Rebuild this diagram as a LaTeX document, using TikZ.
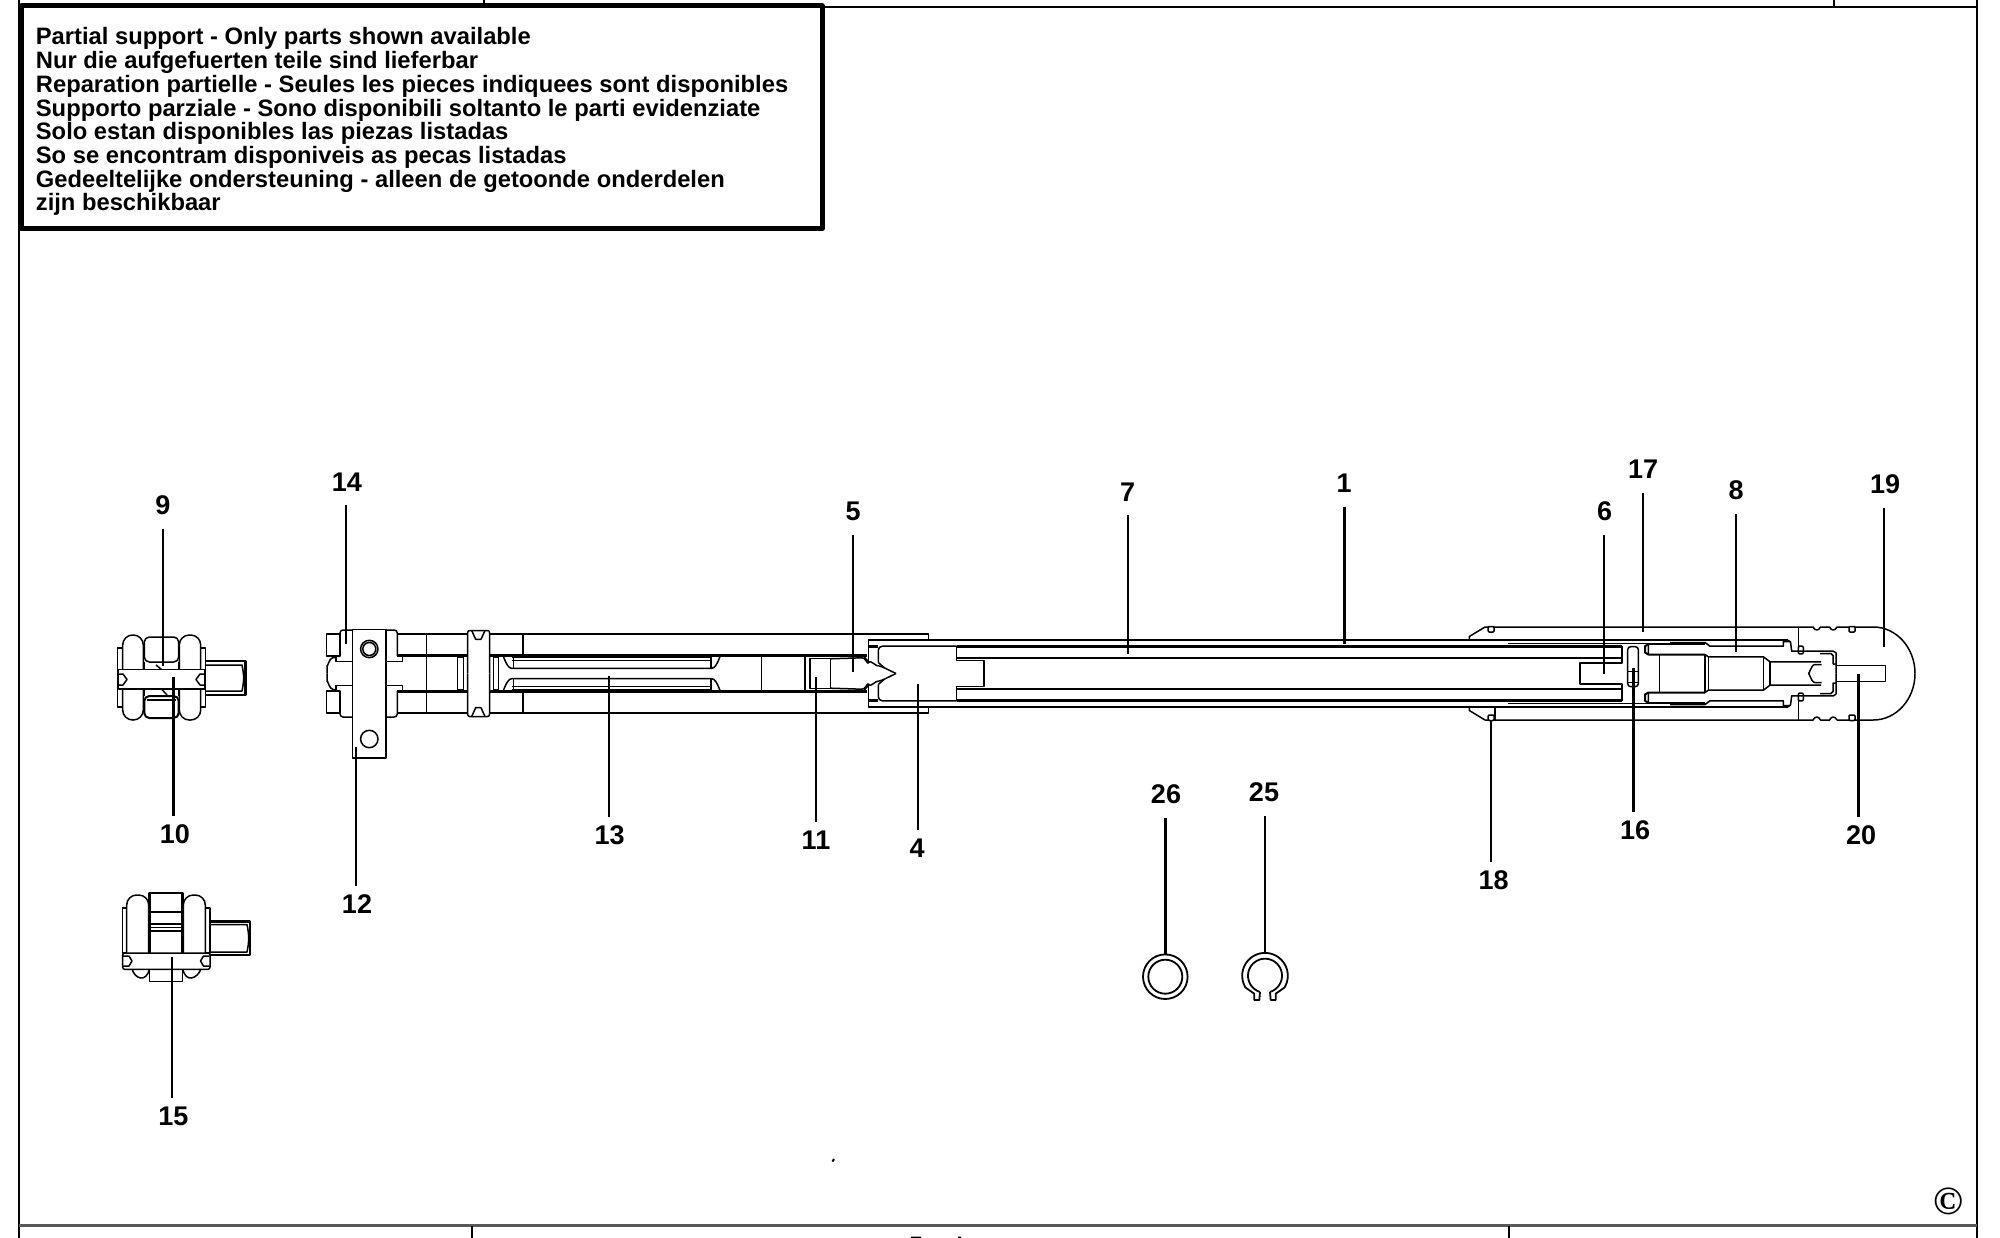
\documentclass[tikz,border=0pt]{standalone}
\usepackage{fontspec}
\setmainfont{Liberation Sans}
\newfontfamily\markfont{Liberation Serif}
\tikzset{
  part/.style={line width=1.5pt},
  medium/.style={line width=2pt},
  heavy/.style={line width=2.8pt},
  leader/.style={line width=2.4pt},
  partno/.style={font=\fontsize{27}{27}\selectfont\bfseries,inner sep=0pt},
  partup/.style={partno,outer sep=14pt},
  partdown/.style={partno,outer sep=9pt,yshift=-1.3pt},
  noticebox/.style={draw,line width=5pt,fill=white,minimum width=801pt,minimum height=223pt},
  noticetext/.style={inner sep=0pt,align=left,font=\fontsize{23.75}{23.7}\selectfont\bfseries},
}
\begin{document}
\begin{tikzpicture}[x=1pt,y=-1pt,line join=round]
\useasboundingbox (0,0) rectangle (2000,1238);
% sheet frame
\draw[line width=2pt] (19,0) -- (19,1238);
\draw[line width=2pt] (1977,0) -- (1977,1238);
\draw[line width=2pt] (19,7) -- (1977,7);
\draw[line width=3pt,black!65] (19,1225.5) -- (1977,1225.5);
\draw[part] (484,0) -- (484,6) (1834,0) -- (1834,6) (472,1226) -- (472,1238) (1509,1226) -- (1509,1238);
\draw[line width=2pt] (911,1237.5) -- (921,1237.5) (958,1237.5) -- (961,1237.5) (832.5,1161.5) -- (834,1159);
\node[noticebox,anchor=north west] (partnotice) at (18.5,3.5) {};
\node[noticetext,anchor=north west] (noticelines) at (35.7,27.5) {Partial support - Only parts shown available\\
Nur die aufgefuerten teile sind lieferbar\\
Reparation partielle - Seules les pieces indiquees sont disponibles\\
Supporto parziale - Sono disponibili soltanto le parti evidenziate\\
Solo estan disponibles las piezas listadas\\
So se encontram disponiveis as pecas listadas\\
Gedeeltelijke ondersteuning - alleen de getoonde onderdelen\\
zijn beschikbaar};
\node[font=\fontsize{40}{40}\selectfont\markfont\bfseries,inner sep=0pt] (copymark) at (1948,1201.7) {©};
% end view with bar
\draw[part] (117.3,648) rectangle (122.7,707) (200.7,648) rectangle (205.3,707);
\draw[part,rounded corners=10pt] (122.7,635) rectangle (143.3,720) (179.3,635) rectangle (200.7,720);
\draw[part,rounded corners=5pt] (144.3,637) rectangle (178.7,662);
\draw[medium,rounded corners=5pt] (144.3,696) rectangle (178.7,718);
\draw[part] (144.3,662) -- (144.3,696) (178.7,662) -- (178.7,696) (147,700) -- (176,700);
\draw[part] (156,665) -- (161.5,669.5) (161.5,689) -- (167,695);
\draw[part,fill=white] (118.3,669.3) rectangle (205,689);
\draw[part] (119,674) -- (123,674) -- (127,679.5) -- (123,685) -- (119,685);
\draw[part] (204,674) -- (200,674) -- (196,679.5) -- (200,685) -- (204,685);
\draw[heavy] (205.3,661) -- (245.3,661) -- (245.3,695) -- (205.3,695);
\draw[part] (205.3,665) -- (242,665) to[bend left=12] (242,691) -- (205.3,691);
% end view with block
\draw[part] (122.7,908) rectangle (126.7,953) (205.3,908) rectangle (210,953);
\draw[part,rounded corners=10pt] (126.7,953) -- (126.7,895) -- (148.7,895) -- (148.7,953);
\draw[part,rounded corners=10pt] (183.3,953) -- (183.3,895) -- (205.3,895) -- (205.3,953);
\draw[heavy] (149.3,953) -- (149.3,893) -- (182.7,893) -- (182.7,953);
\draw[part] (149.3,912) -- (182.7,912) (149.3,927.5) -- (182.7,927.5) (149.3,931) -- (182.7,931);
\draw[medium] (149.3,923.5) -- (182.7,923.5);
\draw[part] (132,969) .. controls (135,979) and (146,983) .. (149.5,969);
\draw[part] (182.7,969) .. controls (186,983) and (197,979) .. (201,969);
\draw[part] (149.3,969) -- (149.3,981.3) -- (182.7,981.3) -- (182.7,969);
\draw[part,fill=white,rounded corners=2pt] (122.7,953) rectangle (210,969.3);
\draw[part] (123,956) -- (129,956) -- (132,961) -- (129,966) -- (123,966);
\draw[part] (209.5,956) -- (203.5,956) -- (200.5,961) -- (203.5,966) -- (209.5,966);
\draw[heavy] (210,921.5) -- (250,921.5) -- (250,955) -- (210,955);
\draw[part] (210,924.5) -- (247,924.5) to[bend left=12] (247,952) -- (210,952);
% tool body, top and bottom halves
\foreach \s in {1,-1}{
\begin{scope}[shift={(0,673.5)},yscale=-\s]
  \draw[part] (326.7,17.7) rectangle (340,39.5);
  \draw[part,rounded corners=3pt] (352.3,43.5) -- (340,43.5) -- (340,17.5);
  \draw[part] (340,17.5) -- (336,17.5) -- (336,12) -- (352.3,12);
  \draw[part] (336,16) -- (333,16) to[out=180,in=90] (327,8) -- (327,0);
  \draw[part,rounded corners=3pt] (386,43.5) -- (397.3,43.5) -- (397.3,17.7);
  \draw[part] (397.3,17.7) -- (402.7,17.7) -- (402.7,12) -- (386,12);
  \draw[part] (397.3,39.5) -- (928.3,39.5) -- (928.3,33);
  \draw[heavy] (397.3,17.7) -- (866.7,17.7);
  \draw[part] (426.7,0) -- (426.7,39.5) (523,17.7) -- (523,39.5);
  \draw[part] (457.3,0) -- (457.3,16.5) -- (463.3,16.5) -- (463.3,0);
  \draw[part] (493.3,0) -- (493.3,16.5) -- (498.3,16.5) -- (498.3,0);
  \draw[part,fill=white,rounded corners=2pt] (467.7,0) -- (467.7,43) -- (489.5,43) -- (489.5,0);
  \draw[part] (471.7,43) -- (475.7,34.2) -- (481,34.2) -- (485,43);
  % slotted bar
  \draw[part] (501.7,17.3) to[out=-80,in=180] (511.7,5.2) -- (711.7,5.2) to[out=0,in=-100] (721.7,17.3);
  \draw[part] (511.7,15.8) -- (711.7,15.8) (511.7,12.8) -- (711.7,12.8);
  \draw[part] (513.3,5.2) -- (513.3,17) (711,5.2) -- (711,17) (761.7,0) -- (761.7,17.7);
  % driver tip
  \draw[heavy] (805,0) -- (805,17);
  \draw[part] (810,0) -- (810,15) -- (830.7,15) -- (830.7,0);
  \draw[part] (830.7,14.7) -- (862,15.7) to[out=-20,in=90] (868.3,10.7) to[out=-70,in=170] (880,7.3) -- (884.3,5.7);
  \draw[part] (863.3,17.7) -- (868.3,12);
  % cup and sleeve
  \draw[part] (868.3,10.7) -- (868.3,33.3) -- (1788,33.3);
  \draw[heavy] (868.3,27.3) -- (878.3,27.3) (956.7,27.3) -- (1508,27.3);
  \draw[part,rounded corners=4pt] (956.7,27.3) -- (878.3,27.3) -- (878.3,11);
  \draw[part] (878.3,11) -- (884.3,5.7) -- (896,0);
  \draw[part] (956.7,27.3) -- (956.7,13) -- (984,13) -- (984,0);
  \draw[medium] (956.7,15.7) -- (984,15.7);
  \draw[part] (984,15.7) -- (1622,15.7);
  \draw[part] (1508,29.8) -- (1670,29.8);
  \draw[heavy] (1508,27.3) -- (1622,27.3);
  \draw[part] (1622,27.3) -- (1622,10.7) -- (1580,10.7) -- (1580,0);
  % outer sleeve and dome
  \draw[part] (1469.3,33.3) -- (1469.3,37) -- (1485,46.5) -- (1813,46.5) .. controls (1815,42.5) and (1818.5,42.5) .. (1820.5,46.5)
    -- (1829.5,46.5) .. controls (1831.5,42.5) and (1835,42.5) .. (1837,46.5) -- (1873.3,46.5)
    .. controls (1896.3,46.5) and (1915,25.7) .. (1915,0);
  \draw[part] (1798.3,46.5) -- (1798.3,27.3);
  \draw[part,rounded corners=1pt,fill=white] (1798.3,27.3) rectangle (1803.3,19.7);
  \draw[part,rounded corners=1pt,fill=white] (1488.2,47) rectangle (1494,41.5) (1849,47) rectangle (1855,41.5);
  \draw[part] (1788,33.3) -- (1790.5,31.5) -- (1791.7,22.3) -- (1833.3,22.3) -- (1836,20.7) -- (1836,0);
  % piston
  \draw[part] (1670,31) -- (1705,31) -- (1710,27.3) -- (1783.3,27.3) -- (1783.3,32) -- (1790,32);
  \draw[part] (1648.3,29.3) -- (1705,29.3);
  \draw[medium] (1648.3,29.3) -- (1645,27.3) -- (1645,21) -- (1648.3,19) -- (1705,19);
  \draw[part] (1648.3,29.3) -- (1648.3,19) (1705,19) -- (1708.3,16.7) -- (1763.3,16.7) -- (1770,11.7) -- (1821,11.7);
  \draw[part] (1659.3,0) -- (1659.3,19) (1705,0) -- (1705,19) (1708.3,0) -- (1708.3,16.7) (1763.3,0) -- (1763.3,16.7) (1770,0) -- (1770,11.7);
  \draw[part] (1821.7,9) -- (1815,9) to[out=180,in=90] (1808.3,0);
  \draw[part] (1820,20) -- (1831,20) -- (1833,18) -- (1833,9.5) -- (1836,9.5);
  \draw[part] (1836,8) -- (1885.7,8) -- (1885.7,0);
\end{scope}
}
\draw[part] (1495,707.5) -- (1495,720);
% bracket over the rods
\draw[part,fill=white] (352.3,629.3) rectangle (386,758);
\draw[part] (369.3,649) circle (8.7pt) (369.3,649) circle (6.5pt) (369.3,739) circle (8.7pt);
% spring pin
\draw[part,fill=white,rounded corners=3pt] (1627.7,646.7) rectangle (1638.3,686.7);
\draw[part] (1627.7,671.7) -- (1638.3,671.7) (1627.7,682.7) -- (1638.3,682.7);
% rings
\draw[line width=1.8pt] (1165.3,976.7) circle (22.3pt) (1165.3,976.7) circle (17pt);
\begin{scope}[shift={(1265,975.7)}]
  \draw[line width=1.8pt] plot[domain=148:392,samples=40] (\x:22.8);
  \draw[line width=1.8pt] plot[domain=107:433,samples=40] (\x:17);
  \draw[line width=1.8pt] (-19.3,12) -- (-10.7,18) -- (-10.7,24.3) -- (-5.7,24.3) -- (-5,16.3);
  \draw[line width=1.8pt] (19.3,12) -- (10.7,18) -- (10.7,24.3) -- (5.7,24.3) -- (5,16.3);
\end{scope}
% part numbers
\foreach \n/\lx/\ly/\tx/\ty in {9/163/505/162.7/666,14/347/482/346/644,5/853/511.5/852.7/671.7,7/1127.5/492/1127.7/654,
    1/1344/483.4/1344.4/644,6/1604.6/511.5/1603.7/674,17/1643/469.4/1643/632,8/1736/490/1735.7/651.7,
    19/1885/484.7/1884/646.7,26/1166/794/1165.3/955,25/1264/792/1265/953}{
  \node[partup] (lab\n) at (\lx,\ly) {\n};
  \coordinate (tip\n) at (\tx,\ty);
  \draw[leader] (lab\n.south -| tip\n) -- (tip\n);
}
\foreach \n/\lx/\ly/\tx/\ty in {10/175/833/173.5/676.7,12/357/903/356/746.7,15/173.5/1115/172/957,13/609.7/834/609/676,
    11/816/839/816/677,4/917/847/917.7/684.3,18/1493.6/879/1491/720,16/1635/829/1633.3/668,20/1861/834/1858.3/674}{
  \node[partdown] (lab\n) at (\lx,\ly) {\n};
  \coordinate (tip\n) at (\tx,\ty);
  \draw[leader] (lab\n.north -| tip\n) -- (tip\n);
}
\end{tikzpicture}
\end{document}
